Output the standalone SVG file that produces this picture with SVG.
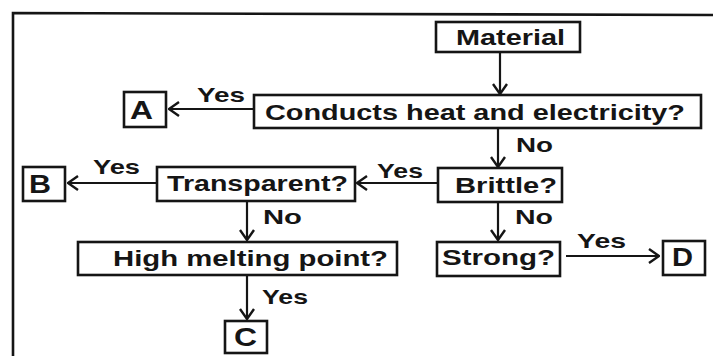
<svg xmlns="http://www.w3.org/2000/svg" width="713" height="356" viewBox="0 0 713 356">
<defs>
<marker id="arr" viewBox="0 0 12 16" refX="11" refY="8" markerWidth="12" markerHeight="16" markerUnits="userSpaceOnUse" orient="auto">
<path d="M1,1 L11,8 L1,15" fill="none" stroke="#151515" stroke-width="2.4"/>
</marker>
</defs>
<style>
.box{fill:#fff;stroke:#151515;stroke-width:2.6}
.t{font-family:"Liberation Sans",Arial,sans-serif;font-weight:bold;font-size:22px;fill:#151515}
.l{font-family:"Liberation Sans",Arial,sans-serif;font-weight:bold;font-size:21px;fill:#151515}
.k{font-family:"Liberation Sans",Arial,sans-serif;font-weight:bold;font-size:25px;fill:#151515}
.c{fill:none;stroke:#151515;stroke-width:2.2;marker-end:url(#arr)}
</style>
<rect width="713" height="356" fill="#fff"/>
<polyline points="13,356 13,13 713,15" fill="none" stroke="#151515" stroke-width="2.6"/>
<g id="connectors">
<line class="c" x1="500" y1="52" x2="500" y2="94"/>
<line class="c" x1="254" y1="109" x2="169" y2="109"/>
<line class="c" x1="498" y1="128" x2="498" y2="167"/>
<line class="c" x1="438" y1="183" x2="357" y2="183"/>
<line class="c" x1="157" y1="183" x2="68" y2="183"/>
<line class="c" x1="247" y1="201" x2="247" y2="240"/>
<line class="c" x1="498" y1="202" x2="498" y2="240"/>
<line class="c" x1="566" y1="256" x2="659" y2="256"/>
<line class="c" x1="247" y1="275" x2="247" y2="319"/>
<text class="l" x="197" y="102" textLength="48" lengthAdjust="spacingAndGlyphs">Yes</text>
<text class="l" x="516" y="152" textLength="37" lengthAdjust="spacingAndGlyphs">No</text>
<text class="l" x="93" y="174" textLength="47" lengthAdjust="spacingAndGlyphs">Yes</text>
<text class="l" x="377" y="178" textLength="46" lengthAdjust="spacingAndGlyphs">Yes</text>
<text class="l" x="263" y="224" textLength="39" lengthAdjust="spacingAndGlyphs">No</text>
<text class="l" x="515" y="224" textLength="38" lengthAdjust="spacingAndGlyphs">No</text>
<text class="l" x="577" y="248" textLength="49" lengthAdjust="spacingAndGlyphs">Yes</text>
<text class="l" x="262" y="304" textLength="46" lengthAdjust="spacingAndGlyphs">Yes</text>
</g>
<g id="material">
<rect class="box" x="436" y="22" width="144" height="30"/>
<text class="t" x="456" y="45" textLength="109" lengthAdjust="spacingAndGlyphs">Material</text>
</g>
<g id="conducts">
<rect class="box" x="254" y="95" width="447" height="33"/>
<text class="t" x="265" y="120" textLength="420" lengthAdjust="spacingAndGlyphs">Conducts heat and electricity?</text>
</g>
<g id="A">
<rect class="box" x="124" y="92" width="42" height="35"/>
<text class="k" x="130" y="119" textLength="23" lengthAdjust="spacingAndGlyphs">A</text>
</g>
<g id="brittle">
<rect class="box" x="438" y="168" width="124" height="34"/>
<text class="t" x="455" y="193" textLength="102" lengthAdjust="spacingAndGlyphs">Brittle?</text>
</g>
<g id="transparent">
<rect class="box" x="157" y="167" width="198" height="34"/>
<text class="t" x="167" y="191" textLength="181" lengthAdjust="spacingAndGlyphs">Transparent?</text>
</g>
<g id="B">
<rect class="box" x="23" y="167" width="42" height="34"/>
<text class="k" x="29" y="193" textLength="22" lengthAdjust="spacingAndGlyphs">B</text>
</g>
<g id="high">
<rect class="box" x="78" y="242" width="319" height="33"/>
<text class="t" x="113" y="266" textLength="275" lengthAdjust="spacingAndGlyphs">High melting point?</text>
</g>
<g id="strong">
<rect class="box" x="437" y="242" width="123" height="34"/>
<text class="t" x="442" y="265" textLength="113" lengthAdjust="spacingAndGlyphs">Strong?</text>
</g>
<g id="D">
<rect class="box" x="663" y="241" width="42" height="34"/>
<text class="k" x="672" y="266" textLength="21" lengthAdjust="spacingAndGlyphs">D</text>
</g>
<g id="C">
<rect class="box" x="225" y="321" width="42" height="32"/>
<text class="k" x="234" y="346" textLength="23" lengthAdjust="spacingAndGlyphs">C</text>
</g>
</svg>
